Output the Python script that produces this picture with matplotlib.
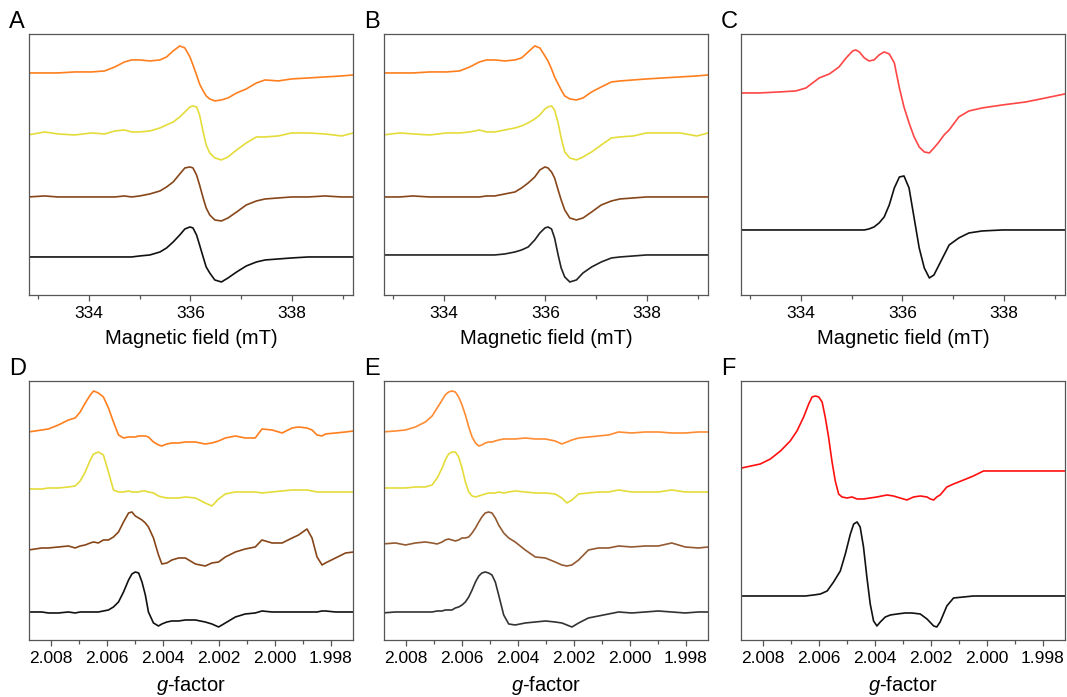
import matplotlib
matplotlib.use("Agg")
import matplotlib.pyplot as plt
from matplotlib.ticker import MultipleLocator, FormatStrFormatter

plt.rcParams['font.family'] = ['Liberation Sans', 'DejaVu Sans']
plt.rcParams['mathtext.fontset'] = 'custom'
plt.rcParams['mathtext.it'] = 'Liberation Sans:italic'
plt.rcParams['mathtext.rm'] = 'Liberation Sans'

# field axis (mT) shared by panels A and B
field_ab = [332.80, 333.13, 333.39, 333.72, 334.05, 334.31, 334.51, 334.70, 334.84,
            335.00, 335.20, 335.40, 335.53, 335.66, 335.79, 335.89, 335.99, 336.05, 336.12,
            336.18, 336.25, 336.31, 336.38, 336.48, 336.61, 336.74, 336.91, 337.10, 337.30,
            337.47, 337.73, 337.99, 338.32, 338.65, 338.98, 339.21]

a_orange = [222, 222, 222, 223, 223, 224, 228, 233, 235,
            235, 234, 235, 238, 244, 249, 247, 238, 230, 220, 211, 204, 199, 196, 194, 195, 197, 202, 206, 212,
            215, 214, 216, 217, 218, 219, 220]
a_yellow = [160, 163, 161, 160, 162, 161, 164, 165, 163,
            163, 164, 167, 170, 173, 178, 183, 188, 189, 188, 180, 163, 150, 142, 137, 135, 138, 145, 152, 158,
            158, 159, 162, 162, 161, 159, 162]
a_brown = [98, 99, 98, 98, 98, 98, 98, 99, 98,
           99, 101, 104, 108, 113, 121, 127, 128, 127, 120, 110, 97, 87, 80, 75, 74, 77, 83, 90, 94,
           96, 97, 98, 98, 99, 98, 98]
a_black = [38, 38, 38, 38, 38, 38, 38, 38, 38,
           39, 40, 43, 47, 53, 60, 66, 68, 67, 60, 50, 38, 28, 22, 15, 13, 17, 23, 29, 33,
           35, 36, 37, 38, 38, 38, 38]

b_orange = [222, 222, 222, 223, 223, 224, 228, 233, 235,
            235, 234, 235, 237, 243, 249, 247, 239, 234, 226, 218, 211, 205, 199, 196, 195, 197, 203, 208, 213,
            214, 215, 216, 217, 218, 219, 220]
b_yellow = [160, 162, 161, 160, 162, 162, 163, 165, 163,
            163, 165, 167, 169, 172, 176, 180, 186, 188, 189, 185, 172, 157, 143, 137, 135, 138, 143, 150, 157,
            158, 159, 162, 162, 162, 159, 162]
b_brown = [98, 98, 99, 98, 98, 98, 98, 98, 99,
           99, 101, 103, 107, 112, 118, 125, 128, 127, 123, 117, 105, 95, 85, 77, 75, 77, 83, 90, 94,
           96, 97, 98, 98, 98, 98, 98]
b_black = [40, 40, 40, 40, 40, 40, 40, 40, 40,
           40, 41, 43, 45, 48, 55, 62, 67, 68, 66, 57, 40, 27, 18, 13, 15, 22, 28, 33, 37,
           38, 39, 40, 40, 40, 40, 40]

# panel C
field_c = [332.81, 333.18, 333.57, 333.90, 334.10,
           334.36, 334.56, 334.75, 334.89, 335.02, 335.08, 335.15, 335.25, 335.34, 335.44,
           335.54, 335.64, 335.74, 335.84, 335.94, 336.03, 336.13, 336.23, 336.33, 336.43,
           336.53, 336.62, 336.72, 336.82, 336.92,
           337.11, 337.31, 337.57, 337.97, 338.43, 338.82, 339.20]
c_red = [202, 202, 203, 204, 207,
         217, 221, 228, 237, 244, 245, 243, 237, 234, 235, 240, 243, 241, 232, 207, 188, 172, 158, 148, 143,
         142, 147, 153, 160, 165,
         178, 184, 187, 190, 193, 197, 201]
c_black = [65, 65, 65, 65, 65,
           65, 65, 65, 65, 65, 65, 65, 65, 66, 68, 72, 78, 90, 107, 118, 119, 107, 77, 47, 27,
           17, 20, 30, 40, 50,
           57, 62, 64, 65, 65, 65, 65]

# panel D (g-factor)
g_d = [2.00881, 2.00833, 2.00810, 2.00774, 2.00738, 2.00714, 2.00696, 2.00678, 2.00660, 2.00648,
       2.00631, 2.00613, 2.00595, 2.00577, 2.00559, 2.00541, 2.00523, 2.00511, 2.00499, 2.00487,
       2.00475, 2.00463, 2.00452, 2.00434, 2.00416, 2.00404, 2.00386, 2.00368, 2.00344, 2.00320,
       2.00284, 2.00249, 2.00225, 2.00201, 2.00177, 2.00141, 2.00106, 2.00070, 2.00046, 2.00010,
       1.99974, 1.99938, 1.99915, 1.99885, 1.99867, 1.99849, 1.99831, 1.99819, 1.99783, 1.99747,
       1.99718]
d_orange = [208, 210, 211, 215, 220, 222, 228, 237, 245, 249, 247, 243, 232, 218, 205, 202, 203, 203, 203, 204,
            204, 204, 203, 198, 195, 194, 196, 197, 197, 198, 198, 196, 197, 199, 202, 204, 202, 202, 211, 210,
            207, 212, 213, 212, 210, 205, 204, 206, 207, 208, 209]
d_yellow = [151, 151, 152, 152, 153, 154, 159, 168, 180, 186, 188, 185, 168, 150, 148, 148, 149, 148, 148, 148,
            149, 149, 148, 147, 144, 143, 142, 142, 142, 143, 142, 137, 134, 141, 146, 148, 148, 148, 147, 148,
            149, 150, 150, 150, 149, 148, 148, 148, 148, 148, 148]
d_brown = [90, 92, 92, 93, 94, 92, 94, 95, 97, 98, 97, 100, 100, 103, 108, 118, 127, 128, 124, 122,
           120, 117, 113, 102, 85, 76, 77, 80, 82, 82, 76, 74, 77, 78, 83, 88, 91, 93, 100, 97,
           97, 102, 105, 111, 102, 83, 75, 77, 82, 87, 88]
d_black = [28, 28, 27, 27, 28, 27, 28, 28, 28, 28, 28, 29, 30, 33, 38, 48, 60, 66, 68, 67,
           58, 45, 28, 17, 14, 16, 18, 19, 19, 20, 20, 18, 16, 13, 17, 23, 26, 27, 29, 28,
           28, 28, 28, 28, 28, 28, 29, 29, 28, 28, 28]

# panel E
g_e = [2.00886, 2.00838, 2.00802, 2.00767, 2.00731, 2.00707, 2.00689, 2.00671, 2.00660, 2.00648,
       2.00636, 2.00624, 2.00612, 2.00600, 2.00588, 2.00576, 2.00564, 2.00552, 2.00540, 2.00529,
       2.00517, 2.00505, 2.00493, 2.00481, 2.00469, 2.00451, 2.00433, 2.00410, 2.00374, 2.00338,
       2.00302, 2.00267, 2.00243, 2.00225, 2.00207, 2.00183, 2.00148, 2.00112, 2.00076, 2.00040,
       1.99993, 1.99945, 1.99898, 1.99850, 1.99802, 1.99755, 1.99719]
e_orange = [208, 209, 210, 213, 218, 224, 232, 240, 245, 248, 249, 248, 243, 235, 225, 213, 203, 197, 194, 195,
            197, 198, 198, 199, 200, 201, 201, 201, 202, 201, 201, 199, 196, 198, 200, 202, 203, 204, 205, 208,
            207, 208, 208, 207, 207, 208, 208]
e_yellow = [152, 152, 152, 153, 153, 155, 162, 172, 180, 186, 188, 188, 183, 172, 158, 148, 144, 143, 144, 145,
            146, 147, 147, 147, 148, 147, 148, 149, 148, 147, 147, 146, 142, 137, 140, 146, 147, 148, 148, 150,
            148, 148, 148, 150, 148, 148, 148]
e_brown = [96, 97, 95, 97, 98, 97, 96, 98, 100, 101, 100, 99, 100, 102, 102, 103, 107, 112, 118, 123,
           127, 128, 127, 122, 115, 107, 102, 98, 90, 83, 82, 78, 75, 74, 75, 80, 90, 92, 92, 94,
           93, 94, 94, 97, 93, 92, 93]
e_black = [27, 28, 28, 28, 28, 28, 29, 29, 30, 30, 30, 32, 33, 35, 38, 43, 50, 58, 64, 67,
           68, 67, 65, 58, 45, 25, 16, 15, 17, 18, 19, 18, 17, 15, 13, 17, 22, 24, 26, 28,
           27, 28, 29, 28, 27, 28, 28]

# panel F
g_f_red = [2.00877, 2.00810, 2.00774, 2.00738, 2.00703, 2.00679, 2.00655, 2.00637, 2.00625, 2.00613,
           2.00601, 2.00589, 2.00578, 2.00566, 2.00554, 2.00542, 2.00530, 2.00518, 2.00500, 2.00482,
           2.00464, 2.00441, 2.00417, 2.00393, 2.00357, 2.00334, 2.00310, 2.00286, 2.00262, 2.00238,
           2.00214, 2.00202, 2.00190, 2.00179, 2.00167, 2.00143, 2.00119, 2.00083, 2.00048, 2.00012,
           1.99976, 1.99917, 1.99845, 1.99786, 1.99720]
f_red = [172, 176, 181, 189, 199, 209, 223, 236, 243, 244, 243, 238, 223, 203, 179, 159, 146, 143, 142, 143,
         141, 141, 142, 143, 145, 144, 142, 140, 143, 144, 143, 141, 140, 143, 145, 153, 156, 160, 164, 169,
         169, 169, 169, 169, 169]
g_f_black = [2.00877, 2.00786, 2.00714, 2.00649, 2.00619, 2.00595, 2.00571, 2.00548, 2.00524, 2.00506,
             2.00488, 2.00476, 2.00464, 2.00453, 2.00441, 2.00429, 2.00417, 2.00405, 2.00393, 2.00381,
             2.00363, 2.00345, 2.00321, 2.00292, 2.00268, 2.00238, 2.00214, 2.00190, 2.00179, 2.00167,
             2.00143, 2.00119, 2.00083, 2.00048, 1.99976, 1.99845, 1.99720]
f_black = [44, 44, 44, 44, 45, 46, 49, 58, 69, 86, 106, 116, 118, 113, 93, 63, 36, 19, 14, 18,
           23, 25, 26, 27, 27, 26, 21, 14, 13, 18, 34, 42, 43, 44, 44, 44, 44]

ORANGE = '#ff7f1e'
YELLOW = '#e4dc3a'
BROWN = '#87461a'
BLACK = '#111111'


def style_axis(ax, kind):
    for s in ax.spines.values():
        s.set_color('#555555')
        s.set_linewidth(0.9)
    ax.set_yticks([])
    if kind == 'field':
        ax.set_xlim(332.82, 339.21)
        ax.set_ylim(0, 261)
        ax.xaxis.set_major_locator(MultipleLocator(2))
        ax.xaxis.set_minor_locator(MultipleLocator(1))
        ax.set_xlabel('Magnetic field (mT)', fontsize=14.5, labelpad=6)
    else:
        ax.set_xlim(2.00879, 1.99719)
        ax.set_ylim(0, 259)
        ax.xaxis.set_major_locator(MultipleLocator(0.002))
        ax.xaxis.set_minor_locator(MultipleLocator(0.001))
        ax.xaxis.set_major_formatter(FormatStrFormatter('%.3f'))
        ax.set_xlabel('$g$-factor', fontsize=14.5, labelpad=6)
    ax.tick_params(axis='x', which='major', direction='out', length=4, width=0.9,
                   color='#555555', labelsize=12.5, pad=4)
    ax.tick_params(axis='x', which='minor', direction='out', length=3, width=0.9, color='#555555')


fig = plt.figure(figsize=(10.67, 6.97), dpi=100)
lefts = [0.0272, 0.3599, 0.6945]
width = 0.3040
top_row = [fig.add_axes([l, 0.5768, width, 0.3745]) for l in lefts]
bot_row = [fig.add_axes([l, 0.0818, width, 0.3716]) for l in lefts]

lw = 1.2
ax = top_row[0]
ax.plot(field_ab, a_orange, color=ORANGE, lw=lw)
ax.plot(field_ab, a_yellow, color=YELLOW, lw=lw)
ax.plot(field_ab, a_brown, color=BROWN, lw=lw)
ax.plot(field_ab, a_black, color=BLACK, lw=lw)

ax = top_row[1]
ax.plot(field_ab, b_orange, color=ORANGE, lw=lw)
ax.plot(field_ab, b_yellow, color=YELLOW, lw=lw)
ax.plot(field_ab, b_brown, color=BROWN, lw=lw)
ax.plot(field_ab, b_black, color='#222222', lw=lw)

ax = top_row[2]
ax.plot(field_c, c_red, color='#ff4545', lw=lw)
ax.plot(field_c, c_black, color=BLACK, lw=lw)

ax = bot_row[0]
ax.plot(g_d, d_orange, color=ORANGE, lw=lw)
ax.plot(g_d, d_yellow, color=YELLOW, lw=lw)
ax.plot(g_d, d_brown, color=BROWN, lw=lw)
ax.plot(g_d, d_black, color=BLACK, lw=lw)

ax = bot_row[1]
ax.plot(g_e, e_orange, color='#ff8c33', lw=lw)
ax.plot(g_e, e_yellow, color=YELLOW, lw=lw)
ax.plot(g_e, e_brown, color='#935a32', lw=lw)
ax.plot(g_e, e_black, color='#333333', lw=lw)

ax = bot_row[2]
ax.plot(g_f_red, f_red, color='#ff1010', lw=lw)
ax.plot(g_f_black, f_black, color=BLACK, lw=lw)

for ax in top_row:
    style_axis(ax, 'field')
for ax in bot_row:
    style_axis(ax, 'g')

# panel letters
for label, ax in zip('ABCDEF', top_row + bot_row):
    pos = ax.get_position()
    fig.text(pos.x0 - 0.019, pos.y1 + 0.001, label, fontsize=17, ha='left', va='bottom')

fig.savefig('out.png', dpi=100)
